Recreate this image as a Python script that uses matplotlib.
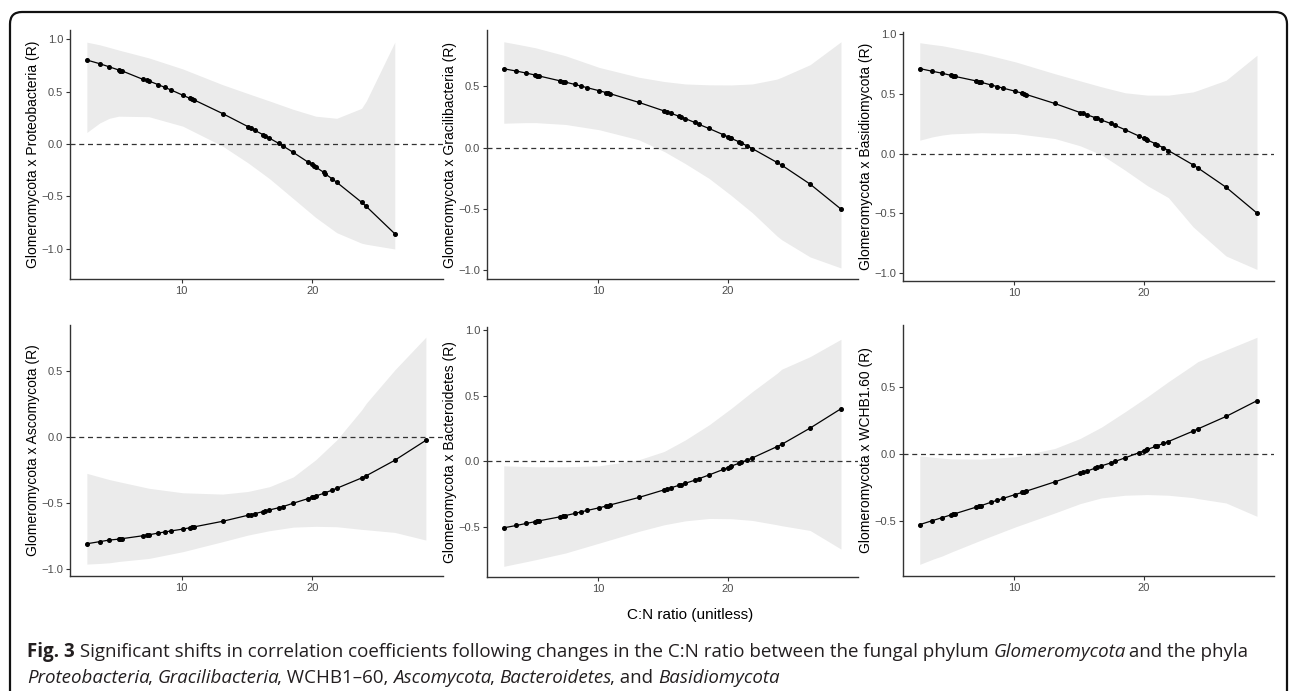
"""Correlation of Glomeromycota with six phyla along the C:N ratio gradient."""

import matplotlib
matplotlib.use("Agg")
import matplotlib.pyplot as plt
from matplotlib.patches import FancyBboxPatch
from matplotlib.transforms import IdentityTransform

plt.rcParams["font.family"] = ["Liberation Sans", "DejaVu Sans"]

W, H = 1290, 691

# sample positions (C:N ratio), shared by all panels
cn_ratio = [2.74, 3.72, 4.46, 5.18, 5.31, 5.46, 7.05, 7.31, 7.49, 8.21, 8.69, 9.18,
            10.08, 10.62, 10.77, 10.95, 13.13, 15.08, 15.31, 15.59, 16.21, 16.38,
            16.72, 17.44, 17.77, 18.54, 19.64, 19.97, 20.13, 20.26, 20.87, 21.00,
            21.49, 21.87, 23.77, 24.13, 26.31, 28.69]

# fitted correlation at each sample
r_proteo = [0.80, 0.765, 0.735, 0.705, 0.70, 0.695, 0.615, 0.605, 0.60, 0.565, 0.54,
            0.515, 0.465, 0.435, 0.43, 0.42, 0.29, 0.165, 0.15, 0.13, 0.09, 0.08,
            0.055, 0.005, -0.02, -0.08, -0.17, -0.195, -0.21, -0.22, -0.27, -0.285,
            -0.33, -0.365, -0.555, -0.595, -0.855]
r_gracili = [0.644, 0.625, 0.609, 0.592, 0.588, 0.585, 0.546, 0.54, 0.535, 0.516,
             0.503, 0.489, 0.465, 0.449, 0.445, 0.44, 0.37, 0.30, 0.292, 0.282, 0.257,
             0.25, 0.237, 0.206, 0.19, 0.157, 0.106, 0.09, 0.082, 0.076, 0.047, 0.04,
             0.014, -0.007, -0.12, -0.142, -0.296, -0.50]
r_basidio = [0.713, 0.69, 0.674, 0.655, 0.651, 0.647, 0.61, 0.603, 0.597, 0.576,
             0.562, 0.548, 0.523, 0.506, 0.501, 0.495, 0.42, 0.344, 0.336, 0.326,
             0.302, 0.295, 0.281, 0.252, 0.236, 0.2, 0.145, 0.129, 0.121, 0.114,
             0.082, 0.075, 0.048, 0.025, -0.095, -0.12, -0.283, -0.50]
r_ascomy = [-0.806, -0.79, -0.778, -0.771, -0.769, -0.767, -0.745, -0.741, -0.738,
            -0.725, -0.717, -0.709, -0.695, -0.685, -0.682, -0.678, -0.636, -0.59,
            -0.585, -0.578, -0.563, -0.559, -0.55, -0.533, -0.524, -0.499, -0.465,
            -0.455, -0.449, -0.445, -0.424, -0.419, -0.401, -0.386, -0.308, -0.291,
            -0.174, -0.023]
r_bactero = [-0.503, -0.485, -0.47, -0.456, -0.453, -0.45, -0.42, -0.415, -0.41,
             -0.394, -0.382, -0.371, -0.351, -0.338, -0.334, -0.329, -0.273, -0.215,
             -0.208, -0.2, -0.181, -0.176, -0.165, -0.142, -0.13, -0.102, -0.06,
             -0.047, -0.041, -0.035, -0.012, -0.007, 0.012, 0.027, 0.113, 0.13,
             0.253, 0.40]
r_wchb = [-0.53, -0.50, -0.478, -0.456, -0.452, -0.448, -0.40, -0.393, -0.387,
          -0.363, -0.348, -0.333, -0.305, -0.289, -0.284, -0.279, -0.21, -0.145,
          -0.138, -0.13, -0.108, -0.102, -0.09, -0.068, -0.057, -0.03, 0.01, 0.022,
          0.028, 0.033, 0.055, 0.06, 0.078, 0.092, 0.17, 0.186, 0.28, 0.398]

# confidence band, read at a subset of the samples
band_x = [2.74, 3.72, 4.46, 5.18, 7.49, 10.08, 13.13, 15.08, 16.72, 18.54, 20.26,
          21.87, 23.77, 24.13, 26.31, 28.69]
lo_proteo = [0.11, 0.2, 0.245, 0.265, 0.26, 0.17, -0.02, -0.18, -0.33, -0.52, -0.7,
             -0.845, -0.945, -0.955, -1.0]
hi_proteo = [0.97, 0.945, 0.92, 0.895, 0.82, 0.715, 0.565, 0.48, 0.41, 0.33, 0.265,
             0.245, 0.34, 0.41, 0.97]
lo_gracili = [0.20, 0.203, 0.205, 0.205, 0.19, 0.147, 0.065, -0.03, -0.13, -0.25,
              -0.39, -0.53, -0.72, -0.75, -0.89, -0.98]
hi_gracili = [0.864, 0.845, 0.83, 0.815, 0.75, 0.655, 0.575, 0.54, 0.52, 0.513,
              0.512, 0.52, 0.56, 0.575, 0.677, 0.864]
lo_basidio = [0.112, 0.14, 0.155, 0.165, 0.175, 0.168, 0.126, 0.065, -0.01, -0.14,
              -0.27, -0.37, -0.615, -0.65, -0.86, -0.973]
hi_basidio = [0.93, 0.915, 0.905, 0.89, 0.84, 0.77, 0.67, 0.61, 0.56, 0.51, 0.49,
              0.49, 0.517, 0.53, 0.615, 0.825]
lo_ascomy = [-0.96, -0.955, -0.95, -0.94, -0.917, -0.866, -0.79, -0.74, -0.707,
             -0.68, -0.674, -0.677, -0.697, -0.70, -0.72, -0.778]
hi_ascomy = [-0.273, -0.30, -0.32, -0.336, -0.386, -0.42, -0.43, -0.41, -0.374,
             -0.3, -0.17, -0.02, 0.207, 0.258, 0.51, 0.758]
lo_bactero = [-0.795, -0.775, -0.76, -0.745, -0.694, -0.619, -0.53, -0.48, -0.45,
              -0.432, -0.434, -0.447, -0.48, -0.487, -0.523, -0.664]
hi_bactero = [-0.033, -0.036, -0.038, -0.04, -0.04, -0.033, 0.013, 0.076, 0.164,
              0.278, 0.404, 0.53, 0.669, 0.70, 0.795, 0.927]
lo_wchb = [-0.828, -0.79, -0.765, -0.735, -0.645, -0.548, -0.443, -0.373, -0.33,
           -0.31, -0.305, -0.31, -0.328, -0.335, -0.368, -0.468]
hi_wchb = [-0.015, -0.025, -0.032, -0.038, -0.04, -0.022, 0.04, 0.115, 0.2, 0.315,
           0.428, 0.54, 0.665, 0.69, 0.778, 0.873]

y_labels = ["Glomeromycota x Proteobacteria (R)", "Glomeromycota x Gracilibacteria (R)",
            "Glomeromycota x Basidiomycota (R)", "Glomeromycota x Ascomycota (R)",
            "Glomeromycota x Bacteroidetes (R)", "Glomeromycota x WCHB1.60 (R)"]
x_ticks = [10, 20]
x_label = "C:N ratio (unitless)"

panels = [
    # r, lo, hi, yticks, ylim, (left, top, right, bottom) in pixels
    (r_proteo, lo_proteo, hi_proteo, [-1.0, -0.5, 0.0, 0.5, 1.0], (-1.286, 1.086), (70, 30, 443, 279)),
    (r_gracili, lo_gracili, hi_gracili, [-1.0, -0.5, 0.0, 0.5], (-1.07, 0.96), (487, 30, 858, 279)),
    (r_basidio, lo_basidio, hi_basidio, [-1.0, -0.5, 0.0, 0.5, 1.0], (-1.07, 1.02), (903, 32, 1274, 281)),
    (r_ascomy, lo_ascomy, hi_ascomy, [-1.0, -0.5, 0.0, 0.5], (-1.05, 0.85), (70, 325, 443, 576)),
    (r_bactero, lo_bactero, hi_bactero, [-0.5, 0.0, 0.5, 1.0], (-0.876, 1.02), (487, 327, 858, 577)),
    (r_wchb, lo_wchb, hi_wchb, [-0.5, 0.0, 0.5], (-0.915, 0.965), (903, 325, 1274, 576)),
]


def draw_panel(fig, label, r, lo, hi, yticks, ylim, box):
    left, top, right, bottom = box
    ax = fig.add_axes([left / W, 1 - bottom / H, (right - left) / W, (bottom - top) / H])
    n = len(r)
    ax.fill_between(band_x[:len(lo)], lo, hi, color="#ebebeb", lw=0, zorder=1)
    ax.axhline(0, color="#333333", lw=0.9, ls=(0, (4, 3)), zorder=2)
    ax.plot(cn_ratio[:n], r, color="black", lw=0.9, zorder=3)
    ax.plot(cn_ratio[:n], r, "o", color="black", ms=2.6, zorder=4)
    ax.set_xlim(1.45, 30.0)
    ax.set_ylim(*ylim)
    ax.set_xticks(x_ticks)
    ax.set_yticks(yticks)
    ax.set_yticklabels([f"{v:.1f}".replace("-", "\u2212") for v in yticks])
    for side in ("top", "right"):
        ax.spines[side].set_visible(False)
    for side in ("left", "bottom"):
        ax.spines[side].set_color("#333333")
        ax.spines[side].set_linewidth(1.0)
    ax.tick_params(length=3, width=0.8, color="#333333", labelsize=8,
                   labelcolor="#4d4d4d", pad=2)
    ax.set_ylabel(label, fontsize=10, color="black", labelpad=1)
    return ax


def draw_caption(fig, renderer, x_px, y_px, runs, size):
    for txt, weight, style in runs:
        t = fig.text(x_px / W, 1 - y_px / H, txt, fontsize=size, fontweight=weight,
                     fontstyle=style, va="baseline", ha="left", color="#231f20",
                     family=["Open Sans", "DejaVu Sans"])
        step = t.get_window_extent(renderer).width
        if style == "italic":
            step -= 2  # slanted glyphs overhang their advance
        x_px += step


def main():
    fig = plt.figure(figsize=(W / 100, H / 100), dpi=100)

    frame = FancyBboxPatch((10, -60), 1277, 679 + 60,
                           boxstyle="round,pad=0,rounding_size=12",
                           transform=IdentityTransform(), fill=False,
                           edgecolor="#111111", lw=1.6)
    fig.add_artist(frame)

    for label, (r, lo, hi, yticks, ylim, box) in zip(y_labels, panels):
        draw_panel(fig, label, r, lo, hi, yticks, ylim, box)

    fig.text(690 / W, 1 - 615 / H, x_label, fontsize=11, ha="center", va="center")

    renderer = fig.canvas.get_renderer()
    cap_size = 13.5
    line1 = [("Fig. 3", "bold", "normal"),
             (" Significant shifts in correlation coefficients following changes in the "
              "C:N ratio between the fungal phylum ", "normal", "normal"),
             ("Glomeromycota", "normal", "italic"),
             (" and the phyla", "normal", "normal")]
    line2 = [("Proteobacteria", "normal", "italic"), (", ", "normal", "normal"),
             ("Gracilibacteria", "normal", "italic"), (", WCHB1\u201360, ", "normal", "normal"),
             ("Ascomycota", "normal", "italic"), (", ", "normal", "normal"),
             ("Bacteroidetes", "normal", "italic"), (", and ", "normal", "normal"),
             ("Basidiomycota", "normal", "italic")]
    draw_caption(fig, renderer, 27, 657, line1, cap_size)
    draw_caption(fig, renderer, 27, 683, line2, cap_size)

    fig.savefig("out.png", dpi=100)
    plt.close(fig)


if __name__ == "__main__":
    main()
